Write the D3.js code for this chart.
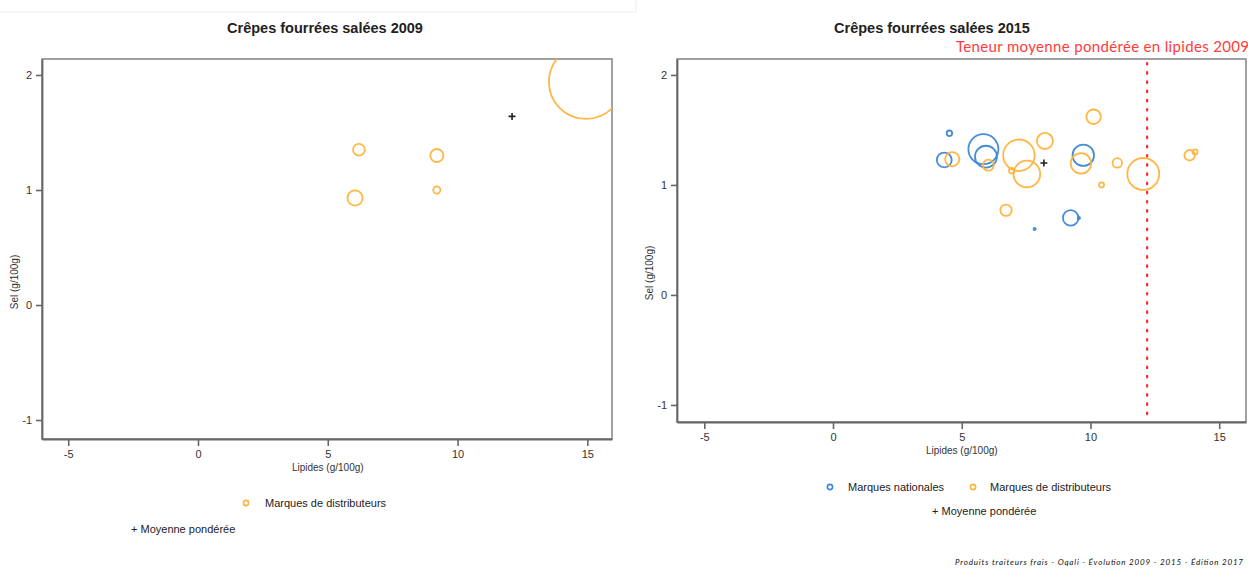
<!DOCTYPE html>
<html><head><meta charset="utf-8">
<script src="https://cdn.jsdelivr.net/npm/d3@7"></script>
<style>body{margin:0;background:#fff}svg{display:block}</style>
</head><body>
<svg id="c" width="1248" height="568"></svg>
<script>
// ---- data ----
const titles = ["Crêpes fourrées salées 2009", "Crêpes fourrées salées 2015"];
const xTicks = [-5, 0, 5, 10, 15];
const yTicks = [-1, 0, 1, 2];
const xLabel = "Lipides (g/100g)";
const yLabel = "Sel (g/100g)";
// 2009 private labels (MDD): lipides, sel, weight (market share)
const mdd2009Lip = [6.2, 9.2, 6.05, 9.2, 14.95];
const mdd2009Sel = [1.35, 1.30, 0.93, 1.00, 1.94];
const mdd2009W   = [1.4, 1.7, 2.3, 0.5, 55];
const mean2009 = [12.1, 1.64];
// 2015 national brands (MN)
const mn2015Lip = [4.52, 4.32, 5.84, 5.94, 9.72, 9.23, 7.83, 9.55];
const mn2015Sel = [1.47, 1.227, 1.325, 1.257, 1.27, 0.70, 0.60, 0.70];
const mn2015W   = [0.3, 2.2, 9.0, 4.8, 4.6, 2.4, 0.05, 0.05];
// 2015 private labels (MDD)
const mdd2015Lip = [4.63, 6.03, 7.22, 6.94, 7.53, 8.23, 10.12, 9.63, 11.04, 10.43, 12.05, 13.85, 14.06, 6.72];
const mdd2015Sel = [1.234, 1.18, 1.27, 1.13, 1.10, 1.40, 1.62, 1.197, 1.20, 1.00, 1.10, 1.27, 1.30, 0.77];
const mdd2015W   = [2.0, 1.2, 9.9, 0.3, 7.1, 2.6, 2.1, 4.2, 0.9, 0.25, 10.2, 1.1, 0.25, 1.3];
const mean2015 = [8.19, 1.20];
const refLine2015 = 12.2;
const refLabel = "Teneur moyenne pondérée en lipides 2009";
const legendMN = "Marques nationales";
const legendMDD = "Marques de distributeurs";
const legendMean = "+ Moyenne pondérée";
const footer = "Produits traiteurs frais - Oqali - Évolution 2009 - 2015 - Édition 2017";

const ORANGE = "#FFB33B", BLUE = "#3C87D6";
const svg = d3.select("#c");
const rScale = d3.scaleSqrt().domain([0, 100]).range([0, 50]);
const fmt = d => String(d);

// faint top-left border
svg.append("line").attr("x1",0).attr("x2",636).attr("y1",12).attr("y2",12).attr("stroke","#eee");
svg.append("line").attr("x1",636).attr("x2",636).attr("y1",0).attr("y2",12).attr("stroke","#eee");

function panel(cfg) {
  const g = svg.append("g");
  const x = d3.scaleLinear().domain(cfg.xd).range([cfg.x0, cfg.x1]);
  const y = d3.scaleLinear().domain(cfg.yd).range([cfg.y1, cfg.y0]);
  const id = "clip" + cfg.id;
  svg.append("clipPath").attr("id", id).append("rect")
    .attr("x", cfg.x0).attr("y", cfg.y0).attr("width", cfg.x1 - cfg.x0).attr("height", cfg.y1 - cfg.y0);
  // box
  g.append("rect").attr("x", cfg.x0).attr("y", cfg.y0).attr("width", cfg.x1 - cfg.x0).attr("height", cfg.y1 - cfg.y0)
    .attr("fill", "none").attr("stroke", "#8a8a8a").attr("stroke-width", 1.6);
  // axes
  const xa = g.append("g").attr("transform", `translate(0,${cfg.y1})`)
    .call(d3.axisBottom(x).tickValues(xTicks).tickFormat(fmt).tickSize(7).tickSizeOuter(0).tickPadding(4));
  const ya = g.append("g").attr("transform", `translate(${cfg.x0},0)`)
    .call(d3.axisLeft(y).tickValues(yTicks).tickFormat(fmt).tickSize(6).tickSizeOuter(0).tickPadding(4));
  [xa, ya].forEach(a => {
    a.select(".domain").attr("stroke", "#666").attr("stroke-width", 1.8);
    a.selectAll(".tick line").attr("stroke", "#666").attr("stroke-width", 1.6);
    a.selectAll(".tick text").attr("font-family", "Liberation Sans, Arial, sans-serif")
      .attr("font-size", 11).attr("fill", "#333");
  });
  ya.selectAll(".tick text").attr("dy", "0.35em");
  // title
  g.append("text").attr("x", cfg.tx).attr("y", 33).attr("text-anchor", "middle")
    .attr("font-family", "Liberation Sans, Arial, sans-serif").attr("font-weight", "bold")
    .attr("font-size", 14.5).attr("fill", "#222").text(cfg.title);
  // axis labels
  g.append("text").attr("x", x(5)).attr("y", cfg.y1 + 32).attr("text-anchor", "middle")
    .attr("font-family", "Liberation Sans, Arial, sans-serif").attr("font-size", 10).attr("fill", "#333").text(xLabel);
  g.append("text").attr("transform", `translate(${cfg.x0 - 24},${y(0.2)}) rotate(-90)`).attr("text-anchor", "middle")
    .attr("font-family", "Liberation Sans, Arial, sans-serif").attr("font-size", 10).attr("fill", "#333").text(yLabel);

  const pg = g.append("g").attr("clip-path", `url(#${id})`);
  if (cfg.ref !== undefined) {
    pg.append("line").attr("x1", x(cfg.ref)).attr("x2", x(cfg.ref)).attr("y1", cfg.y0 + 4).attr("y2", cfg.y1 - 2)
      .attr("stroke", "#ff2a2a").attr("stroke-width", 2.2).attr("stroke-dasharray", "1.6,7.6").attr("stroke-linecap","round");
  }
  cfg.series.forEach(s => {
    pg.selectAll(null).data(s.lip.map((v, i) => ({ lx: v, sy: s.sel[i], w: s.w[i] }))).join("circle")
      .attr("cx", d => x(d.lx)).attr("cy", d => y(d.sy)).attr("r", d => Math.max(1, rScale(d.w)))
      .attr("fill", "none").attr("stroke", s.color).attr("stroke-width", 1.8).attr("stroke-opacity", 0.95);
  });
  const mx = x(cfg.mean[0]), my = y(cfg.mean[1]);
  pg.append("path").attr("d", `M${mx - 3.5},${my}H${mx + 3.5}M${mx},${my - 3.5}V${my + 3.5}`)
    .attr("stroke", "#222").attr("stroke-width", 1.6);
  return { x, y, g };
}

panel({ id: 1, title: titles[0], x0: 42, x1: 612, y0: 59, y1: 439, tx: 325,
  xd: [-6.01, 15.95], yd: [-1.165, 2.139],
  series: [{ lip: mdd2009Lip, sel: mdd2009Sel, w: mdd2009W, color: ORANGE }], mean: mean2009 });

panel({ id: 2, title: titles[1], x0: 677, x1: 1246, y0: 59, y1: 422, tx: 932,
  xd: [-6.06, 16.04], yd: [-1.155, 2.145],
  series: [{ lip: mn2015Lip, sel: mn2015Sel, w: mn2015W, color: BLUE },
           { lip: mdd2015Lip, sel: mdd2015Sel, w: mdd2015W, color: ORANGE }],
  mean: mean2015, ref: refLine2015 });

// red reference label
svg.append("text").attr("x", 1249).attr("y", 52).attr("text-anchor", "end")
  .attr("font-family", "Lato, Open Sans, sans-serif").attr("font-size", 15).attr("fill", "#ff3b3b")
  .attr("textLength", 293).text(refLabel);

// legends
const lf = "Liberation Sans, Arial, sans-serif";
function legCircle(cx, cy, color) {
  svg.append("circle").attr("cx", cx).attr("cy", cy).attr("r", 2.6).attr("fill", "none").attr("stroke", color).attr("stroke-width", 1.6);
}
function legText(x, y, t) {
  svg.append("text").attr("x", x).attr("y", y).attr("dy", "0.35em").attr("font-family", lf)
    .attr("font-size", 11).attr("fill", "#222").text(t);
}
legCircle(246, 503, ORANGE); legText(265, 503, legendMDD);
legText(131, 529, legendMean);
legCircle(830, 487, BLUE); legText(848, 487, legendMN);
legCircle(973, 487, ORANGE); legText(990, 487, legendMDD);
legText(932, 511, legendMean);

// footer
svg.append("text").attr("x", 1243).attr("y", 565).attr("text-anchor", "end")
  .attr("font-family", "Lato, Open Sans, sans-serif").attr("font-style", "italic").attr("font-size", 8)
  .attr("fill", "#111").attr("textLength", 288).text(footer);
</script>
</body></html>
